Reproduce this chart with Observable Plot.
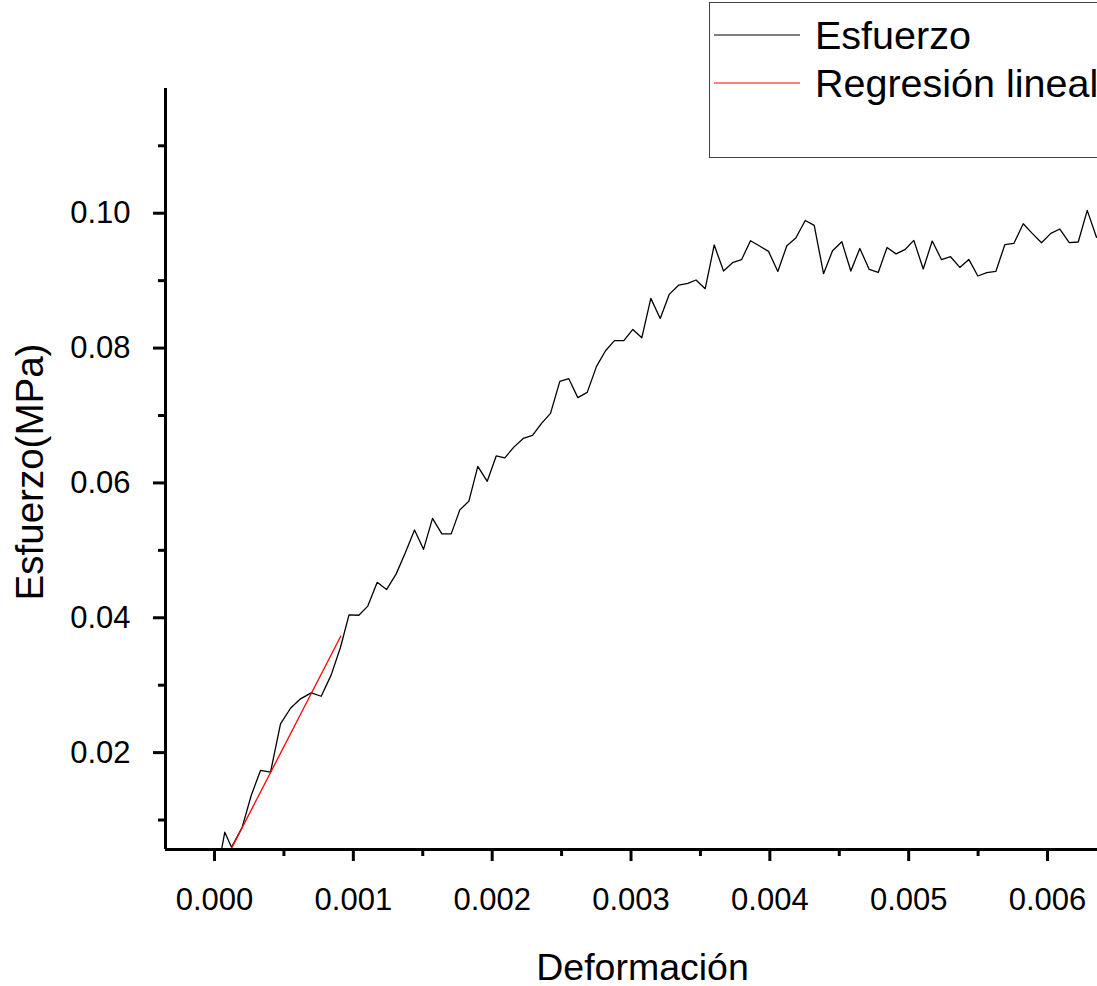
<!DOCTYPE html>
<html>
<head>
<meta charset="utf-8">
<script src="https://cdn.jsdelivr.net/npm/d3@7"></script>
<script src="https://cdn.jsdelivr.net/npm/@observablehq/plot@0.6"></script>
<style>
  html, body { margin: 0; padding: 0; background: white; overflow: hidden; }
  #wrap { position: relative; width: 1097px; height: 986px; overflow: hidden; font-family: "Liberation Sans", Arial, sans-serif; }
  #legend { position: absolute; left: 709px; top: 2px; width: 430px; height: 154px; border: 1.5px solid #444; background: white; }
</style>
</head>
<body>
<div id="wrap">
  <div id="chart"></div>
  <div id="legend">
    <svg width="430" height="154" style="font-family: 'Liberation Sans', Arial, sans-serif;">
      <line x1="4" x2="90" y1="32" y2="32" stroke="black" stroke-width="1.2"></line>
      <text x="105" y="46" font-size="39.5" fill="black">Esfuerzo</text>
      <line x1="4" x2="90" y1="80" y2="80" stroke="red" stroke-width="1.2"></line>
      <text x="105" y="94" font-size="39.5" fill="black">Regresión lineal</text>
    </svg>
  </div>
</div>
<script>
// Measured data (strain, stress in MPa)
const strain = [0, 0.0000742, 0.0001225, 0.0001995, 0.0002643, 0.0003313, 0.0004034, 0.0004754, 0.0005474, 0.0006195,
  0.0006965, 0.0007686, 0.0008406, 0.0009076, 0.0009688, 0.0010394, 0.0011042, 0.0011719, 0.0012389, 0.0013088,
  0.0013758, 0.0014406, 0.0015054, 0.0015703, 0.0016373, 0.0017050, 0.0017669, 0.0018317, 0.0018966, 0.0019643,
  0.0020291, 0.0020910, 0.0021559, 0.0022236, 0.0022906, 0.0023554, 0.0024202, 0.0024872, 0.0025520, 0.0026169,
  0.0026846, 0.0027516, 0.0028164, 0.0028812, 0.0029482, 0.0030131, 0.0030779, 0.0031427, 0.0032104, 0.0032752,
  0.0033444, 0.0034092, 0.0034683, 0.0035345, 0.0035994, 0.0036664, 0.0037312, 0.0037960, 0.0038608, 0.0039257,
  0.0039905, 0.0040575, 0.0041223, 0.0041871, 0.0042549, 0.0043197, 0.0043867, 0.0044515, 0.0045185, 0.0045833,
  0.0046481, 0.0047158, 0.0047807, 0.0048441, 0.0049089, 0.0049723, 0.0050371, 0.0051048, 0.0051696, 0.0052366,
  0.0053014, 0.0053684, 0.0054333, 0.0054981, 0.0055629, 0.0056277, 0.0056926, 0.0057574, 0.0058251, 0.0058899,
  0.0059569, 0.0060239, 0.0060888, 0.0061565, 0.0062213, 0.0062861, 0.0063531, 0.0064179];

const stress = [0.0000, 0.00820, 0.00597, 0.00894, 0.01364, 0.01735, 0.01709, 0.02427, 0.02658, 0.02798,
  0.02886, 0.02836, 0.03153, 0.03563, 0.04043, 0.04037, 0.04173, 0.04526, 0.04418, 0.04651,
  0.04971, 0.05303, 0.05015, 0.05475, 0.05244, 0.05244, 0.05600, 0.05727, 0.06246, 0.06024,
  0.06400, 0.06371, 0.06531, 0.06660, 0.06704, 0.06884, 0.07032, 0.07506, 0.07546, 0.07265,
  0.07343, 0.07729, 0.07961, 0.08110, 0.08110, 0.08277, 0.08154, 0.08737, 0.08440, 0.08796,
  0.08935, 0.08959, 0.09010, 0.08881, 0.09529, 0.09143, 0.09266, 0.09311, 0.09592, 0.09514,
  0.09434, 0.09137, 0.09518, 0.09632, 0.09893, 0.09819, 0.09103, 0.09444, 0.09577, 0.09143,
  0.09478, 0.09167, 0.09122, 0.09493, 0.09397, 0.09459, 0.09597, 0.09173, 0.09588, 0.09311,
  0.09355, 0.09196, 0.09315, 0.09069, 0.09118, 0.09137, 0.09533, 0.09552, 0.09844, 0.09701,
  0.09563, 0.09701, 0.09766, 0.09563, 0.09573, 0.10042, 0.09641, 0.09741];

// Linear regression segment (endpoints)
const regStrain = [0.00010, 0.00091];
const regStress = [0.0049, 0.0373];

// Axes
const xDomain = [-0.000353, 0.00636];
const yDomain = [0.00563, 0.1185];
const xTicks = [0, 0.001, 0.002, 0.003, 0.004, 0.005, 0.006];
const xMinorTicks = [0.0005, 0.0015, 0.0025, 0.0035, 0.0045, 0.0055];
const yTicks = [0.02, 0.04, 0.06, 0.08, 0.10];
const yMinorTicks = [0.01, 0.03, 0.05, 0.07, 0.09, 0.11];

const xLabel = "Deformación";
const yLabel = "Esfuerzo(MPa)";

const series = strain.map((x, i) => ({x, y: stress[i]}));
const reg = regStrain.map((x, i) => ({x, y: regStress[i]}));

const chart = Plot.plot({
  width: 1097,
  height: 986,
  marginLeft: 165,
  marginRight: 0,
  marginTop: 88,
  marginBottom: 137,
  x: {domain: xDomain},
  y: {domain: yDomain},
  style: {fontFamily: "'Liberation Sans', Arial, sans-serif", fontSize: "31px", color: "black", background: "white"},
  marks: [
    Plot.axisX(xTicks, {tickSize: 12, tickPadding: 26, tickFormat: d3.format(".3f"), strokeWidth: 3, label: null, fontSize: 31}),
    Plot.axisX(xMinorTicks, {tickSize: 7, tickFormat: () => "", strokeWidth: 3, label: null}),
    Plot.axisY(yTicks, {tickSize: 12, tickPadding: 23, tickFormat: d3.format(".2f"), strokeWidth: 3, label: null, fontSize: 31}),
    Plot.axisY(yMinorTicks, {tickSize: 7, tickFormat: () => "", strokeWidth: 3, label: null}),
    Plot.line(series, {x: "x", y: "y", stroke: "black", strokeWidth: 1.3, clip: true}),
    Plot.line(reg, {x: "x", y: "y", stroke: "red", strokeWidth: 1.3, clip: true}),
    Plot.ruleX([xDomain[0]], {strokeWidth: 3}),
    Plot.ruleY([yDomain[0]], {strokeWidth: 3}),
    Plot.text([xLabel], {frameAnchor: "bottom", dx: 11, dy: 130, fontSize: 37.5}),
    Plot.text([yLabel], {frameAnchor: "left", textAnchor: "middle", rotate: -90, dx: -135, dy: 3, fontSize: 38.5})
  ]
});
document.getElementById("chart").appendChild(chart);
</script>
</body>
</html>
